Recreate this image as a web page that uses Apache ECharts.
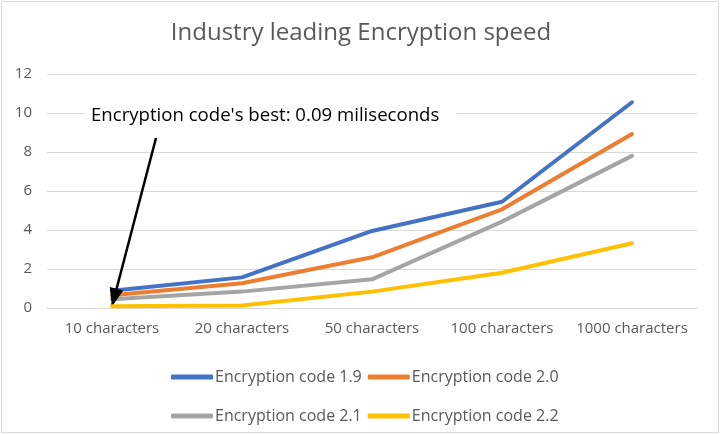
<!DOCTYPE html>
<html>
<head>
<meta charset="utf-8">
<script src="https://cdn.jsdelivr.net/npm/echarts@6/dist/echarts.min.js"></script>
<style>
  html, body { margin: 0; padding: 0; background: #fff; }
  #main { width: 722px; height: 434px; }
</style>
</head>
<body>
<div id="main"></div>
<script>
  // data
  const categories = ['10 characters', '20 characters', '50 characters', '100 characters', '1000 characters'];
  const code19 = [0.88, 1.57, 3.95, 5.45, 10.55];
  const code20 = [0.65, 1.27, 2.6, 5.06, 8.92];
  const code21 = [0.45, 0.84, 1.47, 4.43, 7.8];
  const code22 = [0.09, 0.13, 0.84, 1.81, 3.32];
  const yTicks = [0, 2, 4, 6, 8, 10, 12];

  const textColor = '#595959';
  const font = '"Open Sans", "Liberation Sans", sans-serif';

  function line (name, data, color) {
    return {
      name: name,
      type: 'line',
      data: data,
      symbol: 'none',
      smooth: false,
      lineStyle: { width: 4, color: color, cap: 'round', join: 'round' },
      itemStyle: { color: color }
    }
  }

  const series = [
    line('Encryption code 1.9', code19, '#4472C4'),
    line('Encryption code 2.0', code20, '#ED7D31'),
    line('Encryption code 2.1', code21, '#A5A5A5'),
    line('Encryption code 2.2', code22, '#FFC000')
  ];

  // annotation arrow pointing at the best value, on its own layer above the other lines
  // (the arrow head path is padded so its tip sits on the symbol centre)
  series[3].zlevel = 1;
  series[3].z = 5;
  series[3].markLine = {
    silent: true,
    z: 10,
    symbol: ['none', 'path://M0,0 L1,2 L-1,2 Z M1,-2 L-1,-2 L0,-2 Z'],
    symbolSize: [14, 36],
    label: { show: false },
    lineStyle: { color: '#000', width: 2.5, type: 'solid', opacity: 1 },
    itemStyle: { color: '#000' },
    data: [[
      { x: 156, y: 138 },
      { coord: [categories[0], code22[0]] }
    ]]
  };

  const legendCommon = {
    icon: 'roundRect',
    itemWidth: 42,
    itemHeight: 5,
    itemGap: 6,
    textStyle: { color: textColor, fontSize: 16, fontFamily: font, padding: [0, 0, 0, -3] }
  };

  const chart = echarts.init(document.getElementById('main'));
  chart.setOption({
    animation: false,
    title: {
      text: 'Industry leading Encryption speed',
      left: 'center',
      top: 16,
      textStyle: { color: textColor, fontSize: 24, fontWeight: 'normal', fontFamily: font }
    },
    legend: [
      Object.assign({ left: 166, top: 364, data: [series[0].name, series[1].name] }, legendCommon),
      Object.assign({ left: 166, top: 403, data: [series[2].name, series[3].name] }, legendCommon)
    ],
    grid: { left: 47, right: 25, top: 74, bottom: 126 },
    xAxis: {
      type: 'category',
      data: categories,
      boundaryGap: true,
      axisLine: { lineStyle: { color: '#d9d9d9', width: 1 } },
      axisTick: { show: false },
      axisLabel: { color: textColor, fontSize: 15, fontFamily: font, margin: 13, interval: 0 }
    },
    yAxis: {
      type: 'value',
      min: yTicks[0],
      max: yTicks[yTicks.length - 1],
      interval: 2,
      axisLine: { show: false },
      axisTick: { show: false },
      splitLine: { lineStyle: { color: '#d9d9d9', width: 1 } },
      axisLabel: { color: textColor, fontSize: 15, fontFamily: font, margin: 15 }
    },
    graphic: [
      {
        type: 'rect',
        shape: { x: 1.5, y: 1.5, width: 717, height: 431 },
        style: { fill: 'none', stroke: '#d9d9d9', lineWidth: 1 },
        silent: true
      },
      {
        type: 'rect',
        left: 85, top: 104,
        shape: { width: 372, height: 30 },
        style: { fill: '#fff' },
        z: 10
      },
      {
        type: 'text',
        left: 91, top: 106,
        style: { text: "Encryption code's best: 0.09 miliseconds", fill: '#000', font: '18.6px ' + font },
        z: 11
      }
    ],
    series: series
  });
</script>
</body>
</html>
